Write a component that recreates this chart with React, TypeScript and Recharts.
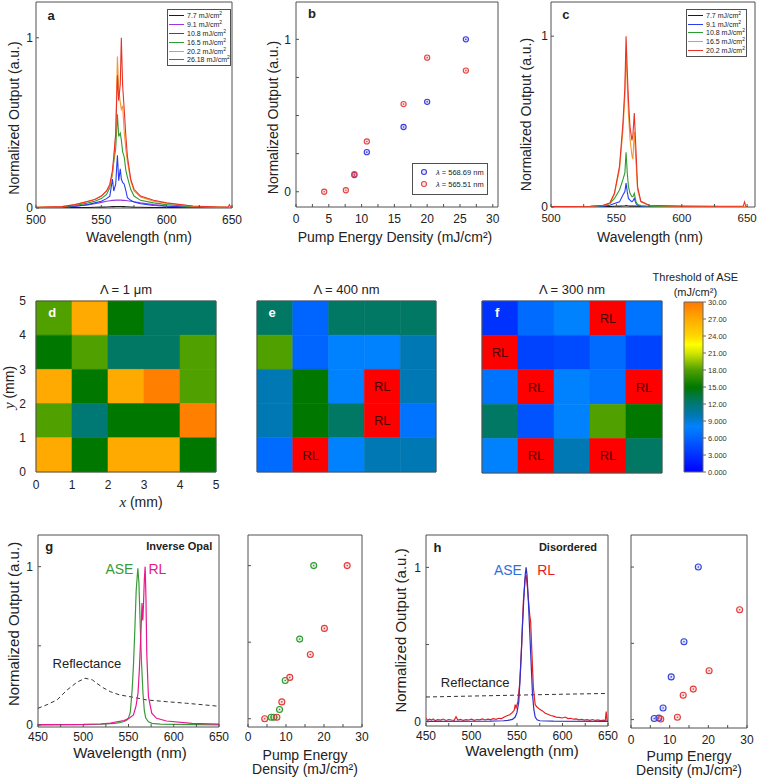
import React from 'react';
import {
  LineChart,
  Line,
  ScatterChart,
  Scatter,
  XAxis,
  YAxis,
  ReferenceArea,
  ReferenceDot,
} from 'recharts';

const FONT = '"Liberation Sans", Arial, Helvetica, sans-serif';
const SERIF = '"Liberation Serif", "Times New Roman", serif';
const INK = '#222';
const FRAME = '#505050';
const RL_RED = '#ff0000';

// ---- a: spectra of the inverse opal at rising pump density ----
const aWavelength = [500, 520, 530, 540, 545, 550, 554, 556.5, 558.5, 559.5, 561, 562.3, 563.3, 564.5, 565.3, 566.3, 567.5, 568.8, 570, 572.5, 575, 580, 590, 600, 620, 640, 647, 648, 649, 650];
const aPump = ['7.7', '9.1', '10.8', '16.5', '20.2', '26.18'];
const aColors = ['#1c1c1c', '#9a35e6', '#2a3cf0', '#2e9a32', '#f5962f', '#e83228'];
const a77 = [0.002, 0.002, 0.003, 0.003, 0.004, 0.005, 0.006, 0.007, 0.008, 0.008, 0.009, 0.009, 0.009, 0.009, 0.009, 0.008, 0.008, 0.007, 0.007, 0.006, 0.005, 0.004, 0.003, 0.003, 0.002, 0.002, 0.002, 0.002, 0.002, 0.002];
const a91 = [0.002, 0.004, 0.01, 0.02, 0.025, 0.033, 0.04, 0.043, 0.045, 0.045, 0.046, 0.046, 0.046, 0.046, 0.046, 0.045, 0.045, 0.044, 0.043, 0.04, 0.037, 0.03, 0.02, 0.012, 0.004, 0.002, 0.002, 0.002, 0.002, 0.002];
const a108 = [0.002, 0.004, 0.01, 0.02, 0.03, 0.04, 0.055, 0.07, 0.17, 0.1, 0.14, 0.31, 0.16, 0.23, 0.17, 0.15, 0.14, 0.1, 0.06, 0.045, 0.035, 0.025, 0.015, 0.01, 0.004, 0.002, 0.002, 0.002, 0.002, 0.002];
const a165 = [0.003, 0.006, 0.015, 0.03, 0.04, 0.055, 0.08, 0.12, 0.2, 0.27, 0.35, 0.55, 0.42, 0.44, 0.4, 0.33, 0.3, 0.22, 0.18, 0.11, 0.07, 0.045, 0.03, 0.02, 0.008, 0.004, 0.003, 0.003, 0.003, 0.003];
const a202 = [0.004, 0.008, 0.02, 0.04, 0.05, 0.07, 0.1, 0.13, 0.2, 0.28, 0.42, 0.89, 0.7, 0.62, 0.58, 0.6, 0.45, 0.34, 0.27, 0.16, 0.1, 0.065, 0.04, 0.028, 0.01, 0.005, 0.004, 0.004, 0.004, 0.004];
const a2618 = [0.004, 0.008, 0.02, 0.04, 0.05, 0.07, 0.1, 0.14, 0.22, 0.3, 0.44, 0.78, 0.63, 0.73, 1.0, 0.72, 0.58, 0.42, 0.3, 0.17, 0.11, 0.07, 0.045, 0.03, 0.012, 0.006, 0.005, 0.02, 0.005, 0.004];
const aSeries = [a77, a91, a108, a165, a202, a2618];

// ---- b: peak output vs pump density ----
const bPumpBlue = [8.9, 10.8, 16.4, 20.0, 25.9];
const bBlue = [0.11, 0.26, 0.425, 0.59, 1.0];
const bPumpRed = [4.3, 7.6, 8.9, 10.8, 16.4, 20.0, 25.9];
const bRed = [0, 0.01, 0.115, 0.33, 0.575, 0.88, 0.795];

// ---- c: spectra of the second sample ----
const cWavelength = [500, 530, 540, 545, 548.5, 552.4, 555, 556.5, 557.4, 558.3, 559.2, 560.4, 561.9, 562.6, 563.7, 565, 566.2, 568.7, 575, 600, 630, 647, 648, 649, 650];
const cPump = ['7.7', '9.1', '10.8', '16.5', '20.2'];
const cColors = ['#1c1c1c', '#2a3cf0', '#2e9a32', '#f5962f', '#e83228'];
const c77 = [0.002, 0.002, 0.003, 0.003, 0.004, 0.005, 0.006, 0.007, 0.008, 0.007, 0.006, 0.005, 0.005, 0.005, 0.006, 0.005, 0.004, 0.003, 0.002, 0.002, 0.002, 0.002, 0.002, 0.002, 0.002];
const c91 = [0.001, 0.002, 0.004, 0.01, 0.02, 0.03, 0.07, 0.09, 0.14, 0.09, 0.05, 0.04, 0.03, 0.035, 0.05, 0.02, 0.01, 0.004, 0.002, 0.001, 0.001, 0.001, 0.001, 0.001, 0.001];
const c108 = [0.002, 0.003, 0.008, 0.02, 0.05, 0.1, 0.16, 0.2, 0.32, 0.2, 0.12, 0.08, 0.06, 0.06, 0.08, 0.03, 0.015, 0.008, 0.004, 0.002, 0.002, 0.002, 0.002, 0.002, 0.002];
const c165 = [0.003, 0.004, 0.01, 0.022, 0.075, 0.22, 0.45, 0.65, 0.91, 0.72, 0.55, 0.4, 0.3, 0.28, 0.44, 0.26, 0.1, 0.03, 0.009, 0.004, 0.003, 0.003, 0.003, 0.003, 0.003];
const c202 = [0.003, 0.004, 0.01, 0.023, 0.08, 0.24, 0.49, 0.7, 1.0, 0.8, 0.63, 0.47, 0.39, 0.42, 0.55, 0.33, 0.12, 0.033, 0.01, 0.005, 0.004, 0.004, 0.03, 0.004, 0.003];
const cSeries = [c77, c91, c108, c165, c202];

// ---- d/e/f: ASE threshold maps, top row first, null = random lasing ----
const dThreshold = [
  [18, 27, 15, 12.5, 12.5],
  [15, 18, 12.5, 12.5, 18],
  [27, 15, 27, 29.5, 18],
  [18, 12, 15, 15, 29.5],
  [27, 15, 27, 27, 15],
];
const eThreshold = [
  [12.5, 6, 12.5, 12.5, 12.5],
  [18, 6, 8, 8, 10],
  [10, 15, 8, null, 10],
  [10, 15, 12.5, null, 7],
  [6.5, null, 8, 10, 10],
];
const fThreshold = [
  [3, 6.5, 8, null, 7],
  [null, 4, 4.5, 6.5, 4],
  [7, null, 8, 7, null],
  [12.5, 5, 8, 18, 15],
  [8, null, 10, null, 12.5],
];
const cmapStops = [0, 6, 8, 10, 12.5, 15, 18, 21, 22.5, 24, 27, 30];
const cmapColors = ['#0000ff', '#0064ff', '#0082ff', '#0078b4', '#007864', '#007800', '#50a000', '#d2e600', '#ffff00', '#ffd700', '#ffaa00', '#ff7800'];
const cbarTicks = [0, 3, 6, 9, 12, 15, 18, 21, 24, 27, 30];

// ---- g: inverse opal, ASE vs RL ----
const gReflWl = [450, 460, 471, 482, 493, 502, 510, 515, 522, 530, 540, 555, 570, 592, 614, 650];
const gRefl = [0.105, 0.128, 0.158, 0.22, 0.27, 0.295, 0.285, 0.263, 0.235, 0.21, 0.19, 0.175, 0.158, 0.147, 0.137, 0.118];
const gAseWl = [450, 500, 520, 535, 540, 545, 548, 550, 552, 554, 555.5, 557, 558.5, 560.3, 561.5, 563, 564.5, 566, 567.5, 569, 572, 576, 585, 600, 650];
const gAse = [0.001, 0.002, 0.005, 0.01, 0.015, 0.022, 0.03, 0.045, 0.08, 0.22, 0.38, 0.6, 0.85, 0.99, 0.9, 0.62, 0.38, 0.2, 0.09, 0.045, 0.02, 0.01, 0.005, 0.003, 0.001];
const gRlWl = [450, 500, 519, 530, 537, 545, 550, 555.5, 558.3, 560.5, 562, 563.5, 564.5, 564.9, 565.4, 565.8, 566.5, 567.5, 568.4, 569.3, 570.2, 572, 575.7, 581, 592, 620, 650];
const gRl = [0.002, 0.003, 0.006, 0.012, 0.02, 0.027, 0.04, 0.063, 0.12, 0.2, 0.35, 0.55, 0.7, 0.77, 0.7, 0.66, 0.75, 0.92, 1.0, 0.8, 0.45, 0.18, 0.074, 0.042, 0.025, 0.01, 0.005];
const gPumpAse = [6.1, 6.8, 8.3, 9.8, 13.6, 17.3];
const gAseOut = [0.01, 0.01, 0.06, 0.25, 0.52, 1.0];
const gPumpRl = [4.4, 7.6, 8.9, 11.0, 16.4, 20.1, 26.1];
const gRlOut = [0.0, 0.01, 0.11, 0.27, 0.42, 0.59, 1.0];

// ---- h: disordered film, ASE vs RL ----
const hReflWl = [450, 500, 550, 600, 650];
const hRefl = [0.16, 0.166, 0.172, 0.178, 0.183];
const hAseWl = [450, 520, 535, 540, 545, 548, 550, 552, 554, 556, 557.5, 559, 560, 561, 562.5, 564, 565.5, 567, 568.5, 570, 572, 575, 590, 650];
const hAse = [0.002, 0.003, 0.006, 0.008, 0.015, 0.03, 0.06, 0.13, 0.35, 0.62, 0.8, 0.95, 1.0, 0.95, 0.78, 0.58, 0.38, 0.18, 0.08, 0.03, 0.012, 0.006, 0.003, 0.002];
const hRlWl = [450, 452, 454, 456, 458, 460, 463, 466, 469, 472, 475, 478, 481, 483, 485, 488, 491, 494, 497, 500, 503, 506, 509, 512, 515, 518, 521, 524, 527, 530, 533, 536, 539, 542, 545, 547, 548, 549, 551, 553, 555, 557, 559, 560, 561, 563, 564, 565, 566, 568, 570, 572, 575, 578, 581, 584, 587, 590, 593, 596, 600, 603, 606, 609, 612, 615, 618, 621, 624, 627, 630, 633, 636, 639, 642, 645, 647, 648, 649, 650];
const hRl = [0.022, 0.009, 0.016, 0.011, 0.018, 0.007, 0.013, 0.01, 0.017, 0.008, 0.014, 0.011, 0.009, 0.032, 0.01, 0.015, 0.008, 0.013, 0.011, 0.016, 0.009, 0.014, 0.012, 0.018, 0.011, 0.016, 0.013, 0.02, 0.015, 0.022, 0.02, 0.03, 0.038, 0.045, 0.06, 0.075, 0.11, 0.09, 0.13, 0.25, 0.48, 0.78, 0.93, 0.95, 0.9, 0.76, 0.69, 0.65, 0.5, 0.22, 0.11, 0.095, 0.08, 0.07, 0.055, 0.048, 0.04, 0.036, 0.03, 0.028, 0.024, 0.03, 0.02, 0.022, 0.016, 0.018, 0.012, 0.015, 0.01, 0.013, 0.009, 0.014, 0.008, 0.012, 0.007, 0.01, 0.006, 0.065, 0.008, 0.01];
const hPumpAse = [6.0, 7.2, 8.3, 10.4, 13.7, 17.4];
const hAseOut = [0.007, 0.01, 0.076, 0.28, 0.51, 1.0];
const hPumpRl = [7.7, 12.0, 13.5, 16.1, 20.2, 28.1];
const hRlOut = [0.004, 0.015, 0.16, 0.2, 0.32, 0.72];

// ---------- helpers ----------
type Pt = { x: number; y: number };
const pairs = (xs: number[], ys: number[]): Pt[] => xs.map((x, i) => ({ x, y: ys[i] }));
const table = (xs: number[], series: number[][]) =>
  xs.map((x, i) => {
    const row: Record<string, number> = { x };
    series.forEach((s, k) => (row[`s${k}`] = s[i]));
    return row;
  });
const keepLabels = (keep: number[]) => (v: number) => (keep.includes(v) ? String(v) : '');
const blank = () => '';

function hexRgb(h: string) {
  const n = parseInt(h.slice(1), 16);
  return [(n >> 16) & 255, (n >> 8) & 255, n & 255];
}
function thresholdColor(v: number) {
  for (let i = 1; i < cmapStops.length; i++) {
    if (v <= cmapStops[i]) {
      const t = (v - cmapStops[i - 1]) / (cmapStops[i] - cmapStops[i - 1]);
      const a = hexRgb(cmapColors[i - 1]);
      const b = hexRgb(cmapColors[i]);
      return `rgb(${a.map((c, k) => Math.round(c + (b[k] - c) * t)).join(',')})`;
    }
  }
  return cmapColors[cmapColors.length - 1];
}

const yTitle = (dx: number, shift: number, size: number, text: React.ReactNode) =>
  function YTitle(props: any) {
    const vb = props.viewBox || { x: 0, y: 0, width: 0, height: 0 };
    const x = vb.x + dx;
    const y = vb.y + vb.height / 2 + shift;
    return (
      <text x={x} y={y} transform={`rotate(-90 ${x} ${y})`} textAnchor="middle" dominantBaseline="central" fontSize={size} fill={INK}>
        {text}
      </text>
    );
  };

const xTitle = (shift: number, dys: number[], size: number, lines: React.ReactNode[]) =>
  function XTitle(props: any) {
    const vb = props.viewBox || { x: 0, y: 0, width: 0, height: 0 };
    const x = vb.x + vb.width / 2 + shift;
    return (
      <g>
        {lines.map((l, i) => (
          <text key={i} x={x} y={vb.y + dys[i]} textAnchor="middle" dominantBaseline="central" fontSize={size} fill={INK}>
            {l}
          </text>
        ))}
      </g>
    );
  };

const tag = (key: string, x: number, y: number, text: string, opts: Record<string, any>) => (
  <ReferenceDot key={key} x={x} y={y} r={0} fill="none" stroke="none" ifOverflow="visible" label={{ value: text, position: 'center', ...opts }} />
);

const ring = (color: string, r: number) =>
  function Ring(p: any) {
    return (
      <g>
        <circle cx={p.cx} cy={p.cy} r={r} fill={color} fillOpacity={0.15} stroke={color} strokeWidth={1.1} />
        <circle cx={p.cx} cy={p.cy} r={0.8} fill={color} />
      </g>
    );
  };

const axisCommon = {
  type: 'number' as const,
  allowDataOverflow: true,
  axisLine: false,
  tickLine: { stroke: FRAME },
  tickSize: -3,
  interval: 0 as const,
  tick: { fontSize: 12, fill: INK },
};

const boldTag = { fontSize: 13, fontWeight: 'bold', fill: INK };
const OUTPUT = 'Normalized Output (a.u.)';

// ---------- legends (html) ----------
function LineLegend({ left, top, width, rowH, labels, colors }: { left: number; top: number; width: number; rowH: number; labels: string[]; colors: string[] }) {
  return (
    <div style={{ position: 'absolute', left, top, width, border: `1px solid ${FRAME}`, background: '#fff', padding: '1px 0', fontSize: 7, color: INK }}>
      {labels.map((l, i) => (
        <div key={l} style={{ display: 'flex', alignItems: 'center', height: rowH }}>
          <span style={{ display: 'inline-block', width: 15, borderTop: `1.5px solid ${colors[i]}`, margin: '0 3px 0 1px' }} />
          <span>
            {l} mJ/cm<sup style={{ fontSize: 5, lineHeight: 0 }}>2</sup>
          </span>
        </div>
      ))}
    </div>
  );
}

function RingLegend() {
  const rows = [
    { c: '#3a3ae0', t: '568.69' },
    { c: '#e44444', t: '565.51' },
  ];
  return (
    <div style={{ position: 'absolute', left: 412, top: 163, width: 74, height: 28, border: `1px solid ${FRAME}`, background: '#fff', fontSize: 7.5, color: INK, paddingTop: 2 }}>
      {rows.map((r) => (
        <div key={r.t} style={{ display: 'flex', alignItems: 'center', height: 12 }}>
          <svg width={20} height={10}>
            <circle cx={11} cy={5} r={2.5} fill={r.c} fillOpacity={0.15} stroke={r.c} strokeWidth={1.1} />
          </svg>
          <span style={{ marginLeft: 3 }}>
            <i>λ</i> = {r.t} nm
          </span>
        </div>
      ))}
    </div>
  );
}

// ---------- top row ----------
function PanelA() {
  const rows = table(aWavelength, aSeries);
  return (
    <div style={{ position: 'absolute', left: 0, top: 0 }}>
      <LineChart width={246} height={250} data={rows} margin={{ top: 2, right: 14, left: 0, bottom: 0 }}>
        <XAxis {...axisCommon} dataKey="x" domain={[500, 650]} ticks={[500, 525, 550, 575, 600, 625, 650]} tickFormatter={keepLabels([500, 550, 600, 650])} height={42} tickMargin={10} label={{ content: xTitle(5, [29], 14, ['Wavelength (nm)']) }} />
        <YAxis {...axisCommon} domain={[0, 1.21]} ticks={[0, 1]} width={36} tickMargin={6} label={{ content: yTitle(14, 13, 14, OUTPUT) }} />
        <ReferenceArea x1={500} x2={650} y1={0} y2={1.21} fill="none" stroke={FRAME} ifOverflow="visible" />
        {aSeries.map((_, k) => (
          <Line key={k} dataKey={`s${k}`} type="linear" stroke={aColors[k]} strokeWidth={1.1} dot={false} isAnimationActive={false} />
        ))}
        {tag('a', 511.5, 1.133, 'a', boldTag)}
      </LineChart>
    </div>
  );
}

function PanelB() {
  return (
    <div style={{ position: 'absolute', left: 256, top: 0 }}>
      <ScatterChart width={246} height={249} margin={{ top: 2, right: 4, left: 0, bottom: 0 }}>
        <XAxis {...axisCommon} dataKey="x" domain={[0, 30.8]} ticks={[0, 2.5, 5, 7.5, 10, 12.5, 15, 17.5, 20, 22.5, 25, 27.5, 30]} tickFormatter={keepLabels([0, 5, 10, 15, 20, 25, 30])} height={42} tickMargin={10} label={{ content: xTitle(-2, [30], 14, ['Pump Energy Density (mJ/cm²)']) }} />
        <YAxis {...axisCommon} dataKey="y" domain={[-0.1, 1.245]} ticks={[0, 0.25, 0.5, 0.75, 1]} tickFormatter={keepLabels([0, 1])} width={40} tickMargin={8} label={{ content: yTitle(17, 13, 14, OUTPUT) }} />
        <ReferenceArea x1={0} x2={30.8} y1={-0.1} y2={1.245} fill="none" stroke={FRAME} ifOverflow="visible" />
        <Scatter data={pairs(bPumpBlue, bBlue)} shape={ring('#3a3ae0', 2.6)} isAnimationActive={false} />
        <Scatter data={pairs(bPumpRed, bRed)} shape={ring('#e44444', 2.6)} isAnimationActive={false} />
        {tag('b', 2.45, 1.17, 'b', boldTag)}
      </ScatterChart>
    </div>
  );
}

function PanelC() {
  const rows = table(cWavelength, cSeries);
  return (
    <div style={{ position: 'absolute', left: 511, top: 0 }}>
      <LineChart width={247} height={249} data={rows} margin={{ top: 2, right: 3, left: 0, bottom: 0 }}>
        <XAxis {...axisCommon} dataKey="x" domain={[500, 656]} ticks={[500, 525, 550, 575, 600, 625, 650]} tickFormatter={keepLabels([500, 550, 600, 650])} height={42} tickMargin={10} tick={{ fontSize: 11.5, fill: INK }} label={{ content: xTitle(-3, [30], 14, ['Wavelength (nm)']) }} />
        <YAxis {...axisCommon} domain={[0, 1.2]} ticks={[0, 1]} width={40} tickMargin={6} label={{ content: yTitle(15, 10, 14, OUTPUT) }} />
        <ReferenceArea x1={500} x2={656} y1={0} y2={1.2} fill="none" stroke={FRAME} ifOverflow="visible" />
        {cSeries.map((_, k) => (
          <Line key={k} dataKey={`s${k}`} type="linear" stroke={cColors[k]} strokeWidth={1.1} dot={false} isAnimationActive={false} />
        ))}
        {tag('c', 511.3, 1.13, 'c', boldTag)}
      </LineChart>
    </div>
  );
}

// ---------- middle row ----------
type Box = { x0: number; y0: number; x1: number; y1: number };

function Heatmap({ box, grid, title, letter, axes }: { box: Box; grid: (number | null)[][]; title: string; letter: [number, number, string]; axes: boolean }) {
  const padL = axes ? 36 : 4;
  const padB = axes ? 40 : 4;
  const padT = 24;
  const padR = 4;
  const italic = (c: string) => (
    <tspan fontStyle="italic" fontFamily={SERIF} fontSize={15}>
      {c}
    </tspan>
  );
  return (
    <div style={{ position: 'absolute', left: box.x0 - padL, top: box.y0 - padT }}>
      <ScatterChart width={box.x1 - box.x0 + padL + padR} height={box.y1 - box.y0 + padT + padB} margin={{ top: padT, right: padR, left: 0, bottom: 0 }}>
        <XAxis type="number" dataKey="x" domain={[0, 5]} allowDataOverflow ticks={[0, 1, 2, 3, 4, 5]} interval={0} height={padB} tick={axes ? { fontSize: 12, fill: INK } : false} tickLine={false} axisLine={false} tickSize={0} tickMargin={8} label={axes ? { content: xTitle(15, [30], 14, [<>{italic('x')} (mm)</>]) } : undefined} />
        <YAxis type="number" dataKey="y" domain={[0, 5]} allowDataOverflow ticks={[0, 1, 2, 3, 4, 5]} interval={0} width={padL} tick={axes ? { fontSize: 12, fill: INK } : false} tickLine={false} axisLine={false} tickSize={0} tickMargin={10} label={axes ? { content: yTitle(9, 1, 14, <>{italic('y')} (mm)</>) } : undefined} />
        {grid.flatMap((row, r) =>
          row.map((v, c) => {
            const fill = v === null ? RL_RED : thresholdColor(v);
            return (
              <ReferenceArea
                key={`${r}-${c}`}
                x1={c}
                x2={c + 1}
                y1={4 - r}
                y2={5 - r}
                fill={fill}
                fillOpacity={1}
                stroke={fill}
                strokeWidth={0.6}
                ifOverflow="visible"
                label={v === null ? { value: 'RL', position: 'center', fontSize: 13, fill: '#4a0000' } : undefined}
              />
            );
          }),
        )}
        <ReferenceArea x1={0} x2={5} y1={0} y2={5} fill="none" stroke={FRAME} ifOverflow="visible" />
        {tag('title', 2.5, 5, title, { position: 'top', offset: 7.5, fontSize: 13, fill: INK })}
        {tag('letter', letter[0], letter[1], letter[2], { fontSize: 13, fontWeight: 'bold', fill: '#fff' })}
      </ScatterChart>
    </div>
  );
}

function ColorBar() {
  const box = { x0: 684, y0: 302, x1: 703, y1: 472 };
  const padL = 45;
  const padT = 40;
  const padR = 40;
  const padB = 6;
  return (
    <div style={{ position: 'absolute', left: box.x0 - padL, top: box.y0 - padT }}>
      <ScatterChart width={box.x1 - box.x0 + padL + padR} height={box.y1 - box.y0 + padT + padB} margin={{ top: padT, right: 0, left: padL, bottom: 0 }}>
        <defs>
          <linearGradient id="asecbar" x1="0" y1="1" x2="0" y2="0">
            {cmapStops.map((s, i) => (
              <stop key={s} offset={s / 30} stopColor={cmapColors[i]} />
            ))}
          </linearGradient>
        </defs>
        <XAxis type="number" dataKey="x" domain={[0, 1]} allowDataOverflow height={padB} tick={false} tickLine={false} axisLine={false} />
        <YAxis
          type="number"
          dataKey="y"
          orientation="right"
          domain={[0, 30]}
          allowDataOverflow
          ticks={cbarTicks}
          interval={0}
          width={padR}
          axisLine={false}
          tickLine={{ stroke: '#666' }}
          tickSize={3}
          tickMargin={2}
          tick={{ fontSize: 7.5, fill: '#333' }}
          tickFormatter={(v: number) => (v >= 12 ? v.toFixed(2) : v.toFixed(3))}
        />
        <ReferenceArea x1={0} x2={1} y1={0} y2={30} fill="url(#asecbar)" fillOpacity={1} stroke="#666" ifOverflow="visible" />
        {tag('t1', 0.6, 30, 'Threshold of ASE', { position: 'top', offset: 21, fontSize: 11, fill: INK })}
        {tag('t2', 0.6, 30, '(mJ/cm²)', { position: 'top', offset: 6, fontSize: 11, fill: INK })}
      </ScatterChart>
    </div>
  );
}

// ---------- bottom row ----------
function SpectrumCompare({ left, box, yDomain, lines, letter, note, ase, rl, reflPos, yShift, xShift, xDy }: any) {
  const padL = box.x0 - left;
  const padT = 4;
  const padR = 14;
  const padB = 53;
  return (
    <div style={{ position: 'absolute', left, top: box.y0 - padT }}>
      <LineChart width={box.x1 - box.x0 + padL + padR} height={box.y1 - box.y0 + padT + padB} margin={{ top: padT, right: padR, left: 0, bottom: 0 }}>
        <XAxis {...axisCommon} dataKey="x" domain={[450, 650]} ticks={[450, 475, 500, 525, 550, 575, 600, 625, 650]} tickFormatter={keepLabels([450, 500, 550, 600, 650])} height={padB} tickMargin={8} label={{ content: xTitle(xShift, [xDy], 15, ['Wavelength (nm)']) }} />
        <YAxis {...axisCommon} dataKey="y" domain={yDomain} ticks={[0, 0.5, 1]} tickFormatter={keepLabels([0, 1])} width={padL} tickMargin={8} label={{ content: yTitle(padL === 38 ? 13 : 14, yShift, 15, OUTPUT) }} />
        <ReferenceArea x1={450} x2={650} y1={yDomain[0]} y2={yDomain[1]} fill="none" stroke={FRAME} ifOverflow="visible" />
        {lines.map((l: any) => (
          <Line key={l.name} data={l.data} dataKey="y" type="linear" stroke={l.color} strokeWidth={l.dash ? 1 : 1.2} strokeDasharray={l.dash} dot={false} isAnimationActive={false} />
        ))}
        {tag('letter', 462.5, 1.13, letter, boldTag)}
        {tag('note', 606, 1.13, note, { fontSize: 11, fontWeight: 'bold', fill: INK })}
        {tag('ase', 540, 0.985, 'ASE', { fontSize: 14, fill: ase })}
        {tag('rl', 582, 0.985, 'RL', { fontSize: 14, fill: rl })}
        {tag('refl', 504, reflPos, 'Reflectance', { fontSize: 13, fill: INK })}
      </LineChart>
    </div>
  );
}

function PumpScatter({ left, box, yDomain, sets, tickMargin }: any) {
  const padL = box.x0 - left;
  const padT = 4;
  const padR = 8;
  const padB = 52;
  return (
    <div style={{ position: 'absolute', left, top: box.y0 - padT }}>
      <ScatterChart width={box.x1 - box.x0 + padL + padR} height={box.y1 - box.y0 + padT + padB} margin={{ top: padT, right: padR, left: 0, bottom: 0 }}>
        <XAxis {...axisCommon} dataKey="x" domain={[0, 30]} ticks={[0, 5, 10, 15, 20, 25, 30]} tickFormatter={keepLabels([0, 10, 20, 30])} height={padB} tickMargin={tickMargin} label={{ content: xTitle(0, [28, 42], 14, ['Pump Energy', 'Density (mJ/cm²)']) }} />
        <YAxis {...axisCommon} dataKey="y" domain={yDomain} ticks={[0, 0.5, 1]} tickFormatter={blank} width={padL} />
        <ReferenceArea x1={0} x2={30} y1={yDomain[0]} y2={yDomain[1]} fill="none" stroke={FRAME} ifOverflow="visible" />
        {sets.map((s: any) => (
          <Scatter key={s.color} data={s.data} shape={ring(s.color, 3)} isAnimationActive={false} />
        ))}
      </ScatterChart>
    </div>
  );
}

export default function App() {
  return (
    <div style={{ position: 'absolute', left: 0, top: 0, width: 758, height: 781, background: '#fff', fontFamily: FONT, overflow: 'hidden' }}>
      <PanelA />
      <PanelB />
      <PanelC />
      <LineLegend left={167} top={9} width={62} rowH={8.9} labels={aPump} colors={aColors} />
      <RingLegend />
      <LineLegend left={686} top={9} width={59} rowH={8.8} labels={cPump} colors={cColors} />

      <Heatmap box={{ x0: 36, y0: 301, x1: 216, y1: 472 }} grid={dThreshold} title="Λ = 1 μm" letter={[0.45, 4.68, 'd']} axes />
      <Heatmap box={{ x0: 257, y0: 301, x1: 436, y1: 472 }} grid={eThreshold} title="Λ = 400 nm" letter={[0.42, 4.66, 'e']} axes={false} />
      <Heatmap box={{ x0: 482, y0: 301, x1: 662, y1: 473 }} grid={fThreshold} title="Λ = 300 nm" letter={[0.42, 4.68, 'f']} axes={false} />
      <ColorBar />

      <SpectrumCompare
        left={0}
        box={{ x0: 38, y0: 535, x1: 219, y1: 727 }}
        yDomain={[-0.013, 1.2]}
        lines={[
          { name: 'refl', data: pairs(gReflWl, gRefl), color: '#333', dash: '4 3' },
          { name: 'ase', data: pairs(gAseWl, gAse), color: '#3a9a3a' },
          { name: 'rl', data: pairs(gRlWl, gRl), color: '#e6198f' },
        ]}
        letter="g"
        note="Inverse Opal"
        ase="#3a9a3a"
        rl="#e6198f"
        reflPos={0.39}
        yShift={-7}
        xShift={1.5}
        xDy={25}
      />
      <PumpScatter
        left={238}
        box={{ x0: 248, y0: 535, x1: 362, y1: 727 }}
        yDomain={[-0.054, 1.2]}
        tickMargin={8}
        sets={[
          { data: pairs(gPumpAse, gAseOut), color: '#2e9a2e' },
          { data: pairs(gPumpRl, gRlOut), color: '#e33a3a' },
        ]}
      />
      <SpectrumCompare
        left={386}
        box={{ x0: 426, y0: 535, x1: 608, y1: 726 }}
        yDomain={[-0.028, 1.21]}
        lines={[
          { name: 'refl', data: pairs(hReflWl, hRefl), color: '#333', dash: '4 3' },
          { name: 'rl', data: pairs(hRlWl, hRl), color: '#e62020' },
          { name: 'ase', data: pairs(hAseWl, hAse), color: '#3030c8' },
        ]}
        letter="h"
        note="Disordered"
        ase="#2f6fd6"
        rl="#e62020"
        reflPos={0.257}
        yShift={0}
        xShift={5}
        xDy={24}
      />
      <PumpScatter
        left={621}
        box={{ x0: 631, y0: 535, x1: 747, y1: 728 }}
        yDomain={[-0.055, 1.21]}
        tickMargin={10}
        sets={[
          { data: pairs(hPumpAse, hAseOut), color: '#3344dd' },
          { data: pairs(hPumpRl, hRlOut), color: '#e33a3a' },
        ]}
      />
    </div>
  );
}
